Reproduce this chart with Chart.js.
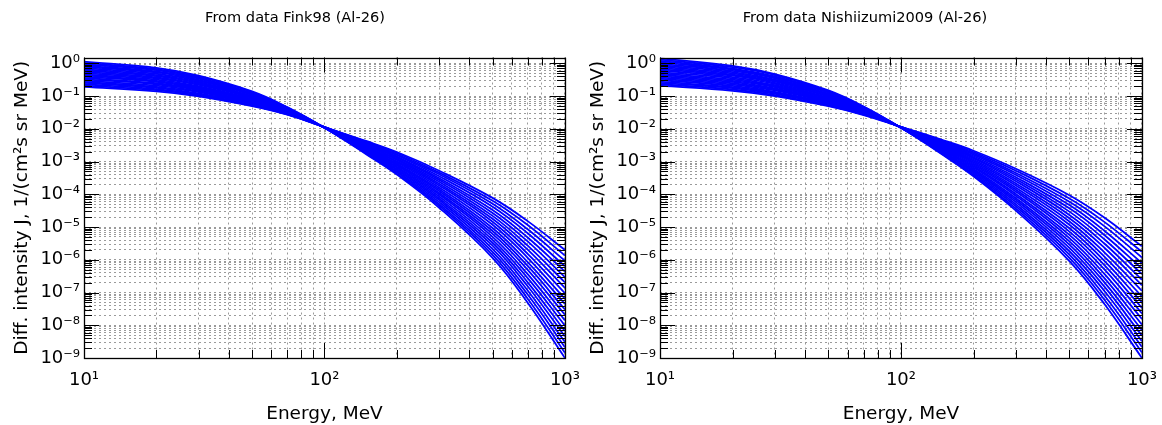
<!DOCTYPE html>
<html>
<head>
<meta charset="utf-8">
<script src="https://cdn.jsdelivr.net/npm/chart.js@4.4.0/dist/chart.umd.min.js"></script>
<style>
  body { margin: 0; background: #fff; width: 1162px; height: 425px; overflow: hidden; position: relative; }
  .panel { position: absolute; top: 0; height: 425px; }
  #left { left: 0; width: 592px; }
  #right { left: 576px; width: 593px; }
</style>
</head>
<body>
<div class="panel" id="left"><canvas id="chartFink" width="592" height="425"></canvas></div>
<div class="panel" id="right"><canvas id="chartNishi" width="593" height="425"></canvas></div>
<script>
var energies = [10, 20, 30, 50, 70, 100, 150, 200, 300, 500, 700, 1000];

// log10 of J, one row per energy, 21 curves each (steepest first)
var fink98LogJ = [
  [0.05,0.01,-0.03,-0.07,-0.10,-0.14,-0.18,-0.22,-0.26,-0.30,-0.34,-0.37,-0.41,-0.45,-0.49,-0.53,-0.57,-0.60,-0.64,-0.68,-0.72],
  [-0.14,-0.18,-0.21,-0.25,-0.28,-0.32,-0.36,-0.39,-0.43,-0.46,-0.50,-0.54,-0.57,-0.61,-0.64,-0.68,-0.72,-0.75,-0.79,-0.82,-0.86],
  [-0.38,-0.41,-0.44,-0.47,-0.51,-0.54,-0.57,-0.60,-0.63,-0.66,-0.70,-0.73,-0.76,-0.79,-0.82,-0.85,-0.88,-0.92,-0.95,-0.98,-1.01],
  [-0.86,-0.88,-0.91,-0.93,-0.95,-0.97,-1.00,-1.02,-1.04,-1.06,-1.09,-1.11,-1.13,-1.15,-1.18,-1.20,-1.22,-1.24,-1.27,-1.29,-1.31],
  [-1.34,-1.35,-1.36,-1.37,-1.39,-1.40,-1.41,-1.42,-1.43,-1.44,-1.46,-1.47,-1.48,-1.49,-1.50,-1.51,-1.52,-1.54,-1.55,-1.56,-1.57],
  [-1.97,-1.97,-1.97,-1.97,-1.97,-1.97,-1.97,-1.96,-1.96,-1.96,-1.96,-1.96,-1.96,-1.96,-1.95,-1.95,-1.95,-1.95,-1.95,-1.95,-1.95],
  [-2.79,-2.77,-2.75,-2.73,-2.71,-2.69,-2.67,-2.65,-2.63,-2.61,-2.59,-2.56,-2.54,-2.52,-2.50,-2.48,-2.46,-2.44,-2.42,-2.40,-2.38],
  [-3.40,-3.37,-3.33,-3.30,-3.26,-3.23,-3.19,-3.16,-3.12,-3.09,-3.06,-3.02,-2.99,-2.95,-2.92,-2.88,-2.85,-2.81,-2.78,-2.74,-2.71],
  [-4.41,-4.35,-4.30,-4.24,-4.18,-4.13,-4.07,-4.01,-3.96,-3.90,-3.85,-3.79,-3.73,-3.68,-3.62,-3.56,-3.51,-3.45,-3.39,-3.34,-3.28],
  [-5.94,-5.85,-5.76,-5.67,-5.57,-5.48,-5.39,-5.30,-5.21,-5.12,-5.03,-4.93,-4.84,-4.75,-4.66,-4.57,-4.48,-4.38,-4.29,-4.20,-4.11],
  [-7.31,-7.19,-7.06,-6.94,-6.81,-6.69,-6.56,-6.44,-6.31,-6.19,-6.07,-5.94,-5.82,-5.69,-5.57,-5.44,-5.32,-5.19,-5.07,-4.94,-4.82],
  [-9.00,-8.84,-8.67,-8.51,-8.34,-8.18,-8.01,-7.85,-7.68,-7.52,-7.35,-7.19,-7.02,-6.86,-6.69,-6.53,-6.36,-6.20,-6.03,-5.87,-5.70]
];

var nishi2009LogJ = [
  [0.15,0.11,0.07,0.03,-0.02,-0.06,-0.10,-0.14,-0.18,-0.22,-0.27,-0.31,-0.35,-0.39,-0.43,-0.47,-0.51,-0.56,-0.60,-0.64,-0.68],
  [-0.08,-0.12,-0.16,-0.19,-0.23,-0.27,-0.31,-0.35,-0.38,-0.42,-0.46,-0.50,-0.54,-0.57,-0.61,-0.65,-0.69,-0.73,-0.76,-0.80,-0.84],
  [-0.33,-0.36,-0.40,-0.43,-0.46,-0.50,-0.53,-0.56,-0.60,-0.63,-0.67,-0.70,-0.73,-0.77,-0.80,-0.83,-0.87,-0.90,-0.93,-0.97,-1.00],
  [-0.83,-0.85,-0.88,-0.90,-0.93,-0.95,-0.97,-1.00,-1.02,-1.05,-1.07,-1.09,-1.12,-1.14,-1.17,-1.19,-1.21,-1.24,-1.26,-1.29,-1.31],
  [-1.32,-1.33,-1.35,-1.36,-1.37,-1.39,-1.40,-1.41,-1.42,-1.44,-1.45,-1.46,-1.48,-1.49,-1.50,-1.52,-1.53,-1.54,-1.55,-1.57,-1.58],
  [-1.97,-1.97,-1.97,-1.97,-1.97,-1.97,-1.96,-1.96,-1.96,-1.96,-1.96,-1.96,-1.96,-1.95,-1.95,-1.95,-1.95,-1.95,-1.94,-1.94,-1.94],
  [-2.81,-2.79,-2.76,-2.74,-2.72,-2.70,-2.67,-2.65,-2.63,-2.60,-2.58,-2.56,-2.53,-2.51,-2.49,-2.47,-2.44,-2.42,-2.40,-2.37,-2.35],
  [-3.45,-3.41,-3.37,-3.33,-3.29,-3.26,-3.22,-3.18,-3.14,-3.10,-3.06,-3.02,-2.98,-2.94,-2.90,-2.87,-2.83,-2.79,-2.75,-2.71,-2.67],
  [-4.50,-4.44,-4.37,-4.31,-4.24,-4.18,-4.12,-4.05,-3.99,-3.92,-3.86,-3.80,-3.73,-3.67,-3.60,-3.54,-3.48,-3.41,-3.35,-3.28,-3.22],
  [-6.04,-5.94,-5.84,-5.74,-5.64,-5.54,-5.44,-5.34,-5.24,-5.14,-5.04,-4.93,-4.83,-4.73,-4.63,-4.53,-4.43,-4.33,-4.23,-4.13,-4.03],
  [-7.36,-7.23,-7.10,-6.96,-6.83,-6.70,-6.57,-6.44,-6.30,-6.17,-6.04,-5.91,-5.78,-5.64,-5.51,-5.38,-5.25,-5.12,-4.98,-4.85,-4.72],
  [-9.00,-8.83,-8.66,-8.49,-8.32,-8.15,-7.98,-7.81,-7.64,-7.47,-7.30,-7.12,-6.95,-6.78,-6.61,-6.44,-6.27,-6.10,-5.93,-5.76,-5.59]
];

var xDecades = [1, 2, 3];
var xTickLabels = ['10¹', '10²', '10³'];
var yDecades = [-9, -8, -7, -6, -5, -4, -3, -2, -1, 0];
var yTickLabels = ['10⁻⁹', '10⁻⁸', '10⁻⁷', '10⁻⁶', '10⁻⁵', '10⁻⁴', '10⁻³', '10⁻²', '10⁻¹', '10⁰'];

var xMin = 10, xMax = 1000;
var yMin = 1e-9, yMax = 1.5;

var font = 'DejaVu Sans';

function logTicks(lo, hi) {
  var out = [];
  var e0 = Math.floor(Math.log10(lo)), e1 = Math.ceil(Math.log10(hi));
  for (var e = e0; e <= e1; e++) {
    for (var m = 1; m <= 9; m++) {
      var v = m * Math.pow(10, e);
      if (v >= lo * 0.999 && v <= hi * 1.001) out.push({ value: v });
    }
  }
  return out;
}

function decadeOf(v) {
  var e = Math.round(Math.log10(v));
  return Math.abs(v / Math.pow(10, e) - 1) < 1e-6 ? e : null;
}

// inward tick marks on all four sides plus the frame (gnuplot look)
var frameTicks = {
  id: 'frameTicks',
  afterDatasetsDraw: function(chart) {
    var ctx = chart.ctx, a = chart.chartArea;
    var xs = chart.scales.x, ys = chart.scales.y;
    ctx.save();
    ctx.strokeStyle = '#000';
    ctx.lineWidth = 1;
    ctx.beginPath();
    xs.ticks.forEach(function(t) {
      var px = Math.round(xs.getPixelForValue(t.value)) + 0.5;
      var len = decadeOf(t.value) !== null ? 15 : 8;
      ctx.moveTo(px, a.bottom); ctx.lineTo(px, a.bottom - len);
      ctx.moveTo(px, a.top); ctx.lineTo(px, a.top + len);
    });
    ys.ticks.forEach(function(t) {
      var py = Math.round(ys.getPixelForValue(t.value)) + 0.5;
      var len = decadeOf(t.value) !== null ? 15 : 8;
      ctx.moveTo(a.left, py); ctx.lineTo(a.left + len, py);
      ctx.moveTo(a.right, py); ctx.lineTo(a.right - len, py);
    });
    ctx.stroke();
    ctx.lineWidth = 1.3;
    ctx.strokeRect(Math.round(a.left) + 0.5, Math.round(a.top) + 0.5,
                   Math.round(a.right - a.left), Math.round(a.bottom - a.top));
    ctx.restore();
  }
};

function makeChart(id, title, logJ, pad, yAxisWidth, yTitleShift) {
  var datasets = [];
  for (var k = 0; k < logJ[0].length; k++) {
    datasets.push({
      data: energies.map(function(e, i) { return { x: e, y: Math.pow(10, logJ[i][k]) }; }),
      borderColor: '#0000ff',
      borderWidth: 1.8,
      pointRadius: 0,
      tension: 0.4,
      fill: false
    });
  }

  var ctx = document.getElementById(id).getContext('2d');
  return new Chart(ctx, {
    type: 'line',
    data: { datasets: datasets },
    plugins: [frameTicks],
    options: {
      responsive: false,
      animation: false,
      layout: { padding: pad },
      plugins: {
        legend: { display: false },
        tooltip: { enabled: false },
        title: {
          display: true,
          text: title,
          color: '#000',
          font: { family: font, size: 14.6, weight: 'normal' },
          padding: { top: 9.5, bottom: 30.5 }
        }
      },
      scales: {
        x: {
          type: 'logarithmic',
          min: xMin,
          max: xMax,
          afterBuildTicks: function(s) { s.ticks = logTicks(xMin, xMax); },
          afterFit: function(s) { s.height = 67; },
          grid: { color: '#9a9a9a', lineWidth: 1, drawTicks: false },
          border: { display: false, dash: [2, 3] },
          ticks: {
            autoSkip: false,
            maxRotation: 0,
            padding: 12,
            color: '#000',
            font: { family: font, size: 18 },
            callback: function(v) {
              var e = decadeOf(v);
              return e === null ? '' : xTickLabels[xDecades.indexOf(e)];
            }
          },
          title: {
            display: true,
            text: 'Energy, MeV',
            color: '#000',
            font: { family: font, size: 18.5 },
            padding: { top: 0, bottom: 0 }
          }
        },
        y: {
          type: 'logarithmic',
          min: yMin,
          max: yMax,
          afterBuildTicks: function(s) { s.ticks = logTicks(yMin, yMax); },
          afterFit: function(s) { s.width = yAxisWidth; },
          grid: { color: '#9a9a9a', lineWidth: 1, drawTicks: false },
          border: { display: false, dash: [2, 3] },
          ticks: {
            autoSkip: false,
            padding: 4,
            color: '#000',
            font: { family: font, size: 18 },
            callback: function(v) {
              var e = decadeOf(v);
              return e === null ? '' : yTickLabels[yDecades.indexOf(e)];
            }
          },
          title: {
            display: true,
            text: 'Diff. intensity J, 1/(cm²s sr MeV)',
            color: '#000',
            font: { family: font, size: 18.5 },
            padding: { top: yTitleShift, bottom: 0 }
          }
        }
      }
    }
  });
}

makeChart('chartFink', 'From data Fink98 (Al-26)', fink98LogJ,
  { left: 25, right: 27, top: 0, bottom: 0 }, 59, -14);
makeChart('chartNishi', 'From data Nishiizumi2009 (Al-26)', nishi2009LogJ,
  { left: 12, right: 27, top: 0, bottom: 0 }, 72, -1);
</script>
</body>
</html>
